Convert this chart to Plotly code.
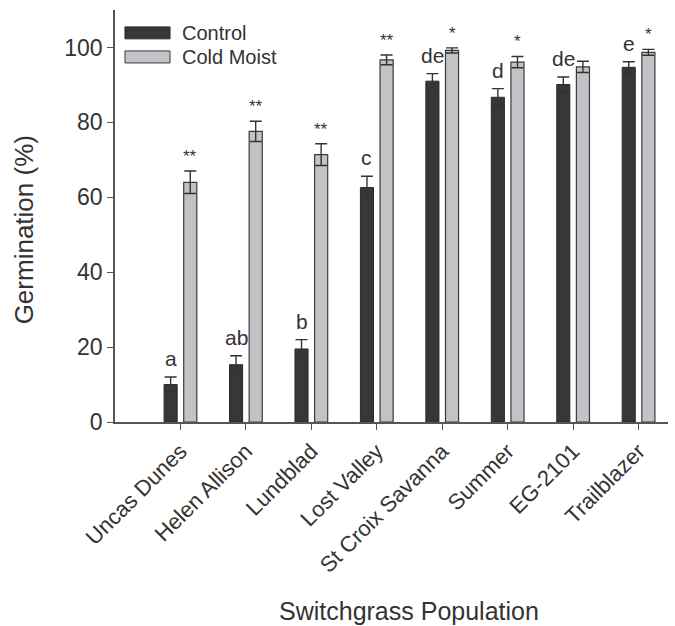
import plotly.graph_objects as go

populations = ["Uncas Dunes", "Helen Allison", "Lundblad", "Lost Valley",
               "St Croix Savanna", "Summer", "EG-2101", "Trailblazer"]
control = [10.0, 15.3, 19.5, 62.6, 91.0, 86.7, 90.1, 94.7]
control_err = [2.0, 2.4, 2.5, 3.0, 2.0, 2.3, 2.0, 1.5]
cold_moist = [64.0, 77.6, 71.4, 96.7, 99.2, 96.1, 94.8, 98.7]
cold_moist_err = [3.0, 2.7, 2.9, 1.3, 0.7, 1.5, 1.5, 0.8]
letters = ["a", "ab", "b", "c", "de", "d", "de", "e"]
stars = ["**", "**", "**", "**", "*", "*", "", "*"]

FONT = "Liberation Sans, Arial, sans-serif"
TXT = "#333333"
DARK = "#373737"
LIGHT = "#c3c3c7"

xs = list(range(len(populations)))

fig = go.Figure()
fig.add_trace(go.Bar(
    x=xs, y=control, width=0.2, offset=-0.25, name="Control",
    marker=dict(color=DARK, line=dict(color="#2a2a2a", width=1)),
    error_y=dict(type="data", array=control_err, color="#333333", thickness=1.4, width=6),
    showlegend=False))
fig.add_trace(go.Bar(
    x=xs, y=cold_moist, width=0.2, offset=0.05, name="Cold Moist",
    marker=dict(color=LIGHT, line=dict(color="#3a3a3a", width=1.2)),
    error_y=dict(type="data", array=cold_moist_err, color="#333333", thickness=1.4, width=6),
    showlegend=False))

annotations = []
for i, (lab, v, e) in enumerate(zip(letters, control, control_err)):
    annotations.append(dict(x=i - 0.15, y=v + e, text=lab, showarrow=False,
                            yanchor="bottom", yshift=5,
                            font=dict(family=FONT, size=21, color=TXT)))
for i, (s, v, e) in enumerate(zip(stars, cold_moist, cold_moist_err)):
    if s:
        annotations.append(dict(x=i + 0.15, y=v + e, text=s, showarrow=False,
                                yanchor="bottom", yshift=3,
                                font=dict(family=FONT, size=17, color=TXT)))

# legend (drawn manually to match the wide swatches)
legend_items = [("Control", DARK, "#2a2a2a", 0.959, 0.930, 0.944),
                ("Cold Moist", LIGHT, "#3a3a3a", 0.9006, 0.8715, 0.886)]
shapes = []
for name, fill, edge, y1, y0, yt in legend_items:
    shapes.append(dict(type="rect", xref="paper", yref="paper",
                       x0=0.018, x1=0.0995, y0=y0, y1=y1,
                       fillcolor=fill, line=dict(color=edge, width=1)))
    annotations.append(dict(xref="paper", yref="paper", x=0.117, y=yt,
                            text=name, showarrow=False, xanchor="left", yanchor="middle",
                            font=dict(family=FONT, size=20, color=TXT)))

# axis titles
annotations.append(dict(xref="paper", yref="paper", x=0.532, y=-0.459,
                        text="Switchgrass Population", showarrow=False,
                        xanchor="center", yanchor="middle",
                        font=dict(family=FONT, size=25, color=TXT)))
annotations.append(dict(xref="paper", yref="paper", x=-0.165, y=0.467,
                        text="Germination (%)", showarrow=False, textangle=-90,
                        xanchor="center", yanchor="middle",
                        font=dict(family=FONT, size=26, color=TXT)))

fig.update_layout(
    width=675, height=626,
    margin=dict(l=115, r=7, t=10, b=204),
    plot_bgcolor="white", paper_bgcolor="white",
    barmode="overlay",
    font=dict(family=FONT, color=TXT),
    annotations=annotations, shapes=shapes,
    xaxis=dict(range=[-1.0, 7.45], tickvals=xs, ticktext=populations,
               tickangle=-45, ticks="outside", ticklen=6, tickcolor="#555555",
               showline=True, linecolor="#555555", linewidth=1.5,
               showgrid=False, zeroline=False,
               tickfont=dict(family=FONT, size=22, color=TXT)),
    yaxis=dict(range=[0, 110], tickvals=[0, 20, 40, 60, 80, 100],
               ticks="outside", ticklen=6, tickcolor="#555555",
               showline=True, linecolor="#555555", linewidth=1.5,
               showgrid=False, zeroline=False,
               tickfont=dict(family=FONT, size=23, color=TXT)),
)

fig.write_html("out.html", config={"displayModeBar": False},
               post_script="document.body.style.margin='0';")
